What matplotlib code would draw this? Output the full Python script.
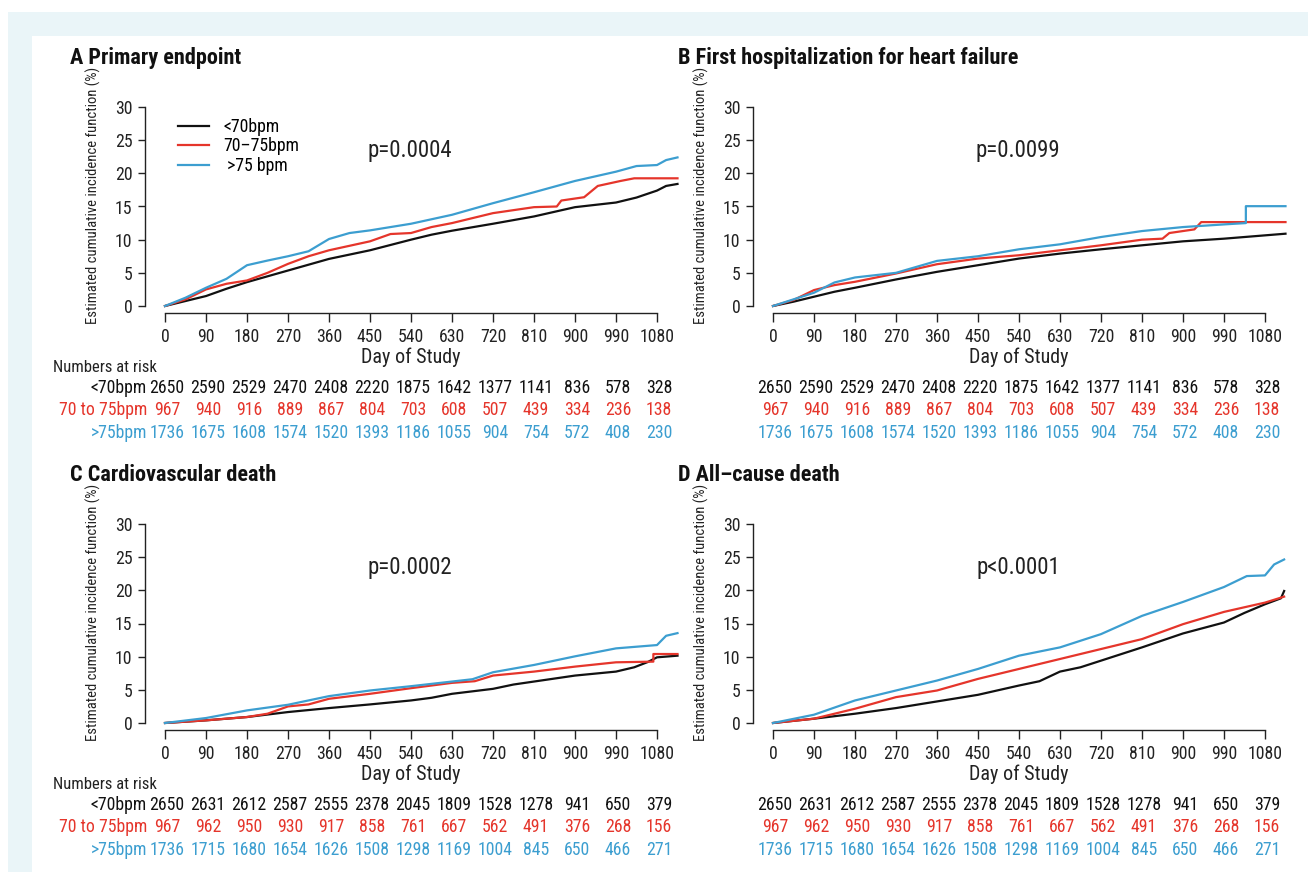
import matplotlib
matplotlib.use("Agg")
from matplotlib import pyplot as plt, font_manager as fm
from matplotlib.patches import Rectangle
import numpy as np

W, H = 1308, 872

# ---- data ----
ticks = [0, 90, 180, 270, 360, 450, 540, 630, 720, 810, 900, 990, 1080]

# A primary endpoint
a_lo_t = [0, 45, 90, 135, 180, 270, 360, 450, 540, 585, 630, 720, 810, 900, 990, 1035, 1080, 1100, 1125]
a_lo = [0, 0.75, 1.5, 2.6, 3.6, 5.35, 7.1, 8.4, 10.0, 10.75, 11.35, 12.4, 13.5, 14.9, 15.6, 16.35, 17.4, 18.1, 18.4]
a_mid_t = [0, 45, 90, 135, 180, 225, 270, 315, 360, 450, 495, 540, 585, 630, 720, 810, 860, 870, 920, 950, 1000, 1030, 1125]
a_mid = [0, 1.0, 2.5, 3.35, 3.85, 5.0, 6.35, 7.5, 8.4, 9.75, 10.85, 11.0, 11.9, 12.5, 14.0, 14.9, 15.0, 15.9, 16.4, 18.1, 18.85, 19.25, 19.25]
a_hi_t = [0, 45, 90, 135, 180, 225, 270, 315, 360, 405, 450, 540, 630, 720, 810, 900, 990, 1035, 1080, 1100, 1125]
a_hi = [0, 1.25, 2.75, 4.1, 6.15, 6.85, 7.5, 8.25, 10.1, 11.0, 11.4, 12.4, 13.75, 15.5, 17.15, 18.85, 20.25, 21.1, 21.25, 22.0, 22.4]

# B first hospitalization for heart failure
b_lo_t = [0, 45, 90, 135, 180, 270, 360, 450, 540, 630, 720, 810, 900, 990, 1080, 1125]
b_lo = [0, 0.65, 1.4, 2.15, 2.75, 4.0, 5.15, 6.15, 7.15, 7.9, 8.55, 9.15, 9.75, 10.15, 10.65, 10.9]
b_mid_t = [0, 45, 90, 135, 180, 270, 360, 450, 540, 630, 720, 810, 855, 870, 900, 925, 940, 1125]
b_mid = [0, 0.9, 2.4, 3.15, 3.65, 4.9, 6.3, 7.15, 7.65, 8.4, 9.15, 10.0, 10.15, 11.0, 11.3, 11.55, 12.65, 12.65]
b_hi_t = [0, 45, 90, 135, 180, 270, 360, 450, 540, 630, 720, 810, 900, 990, 1038, 1038, 1125]
b_hi = [0, 1.0, 2.0, 3.55, 4.3, 5.0, 6.8, 7.5, 8.55, 9.3, 10.4, 11.3, 11.9, 12.3, 12.5, 15.05, 15.05]

# C cardiovascular death
c_lo_t = [0, 90, 180, 270, 360, 450, 540, 585, 630, 720, 765, 810, 900, 990, 1030, 1060, 1080, 1125]
c_lo = [0, 0.4, 0.9, 1.65, 2.25, 2.8, 3.4, 3.8, 4.4, 5.15, 5.8, 6.25, 7.15, 7.75, 8.4, 9.2, 9.9, 10.15]
c_mid_t = [0, 90, 180, 225, 270, 315, 360, 450, 540, 630, 680, 720, 810, 900, 990, 1072, 1072, 1125]
c_mid = [0, 0.4, 0.9, 1.4, 2.5, 2.8, 3.65, 4.4, 5.25, 6.05, 6.3, 7.15, 7.75, 8.5, 9.15, 9.25, 10.4, 10.4]
c_hi_t = [0, 90, 180, 270, 360, 450, 540, 630, 675, 720, 810, 900, 990, 1080, 1100, 1125]
c_hi = [0, 0.75, 1.9, 2.75, 4.05, 4.9, 5.55, 6.25, 6.6, 7.65, 8.75, 10.05, 11.25, 11.75, 13.15, 13.55]

# D all-cause death
d_lo_t = [0, 90, 180, 270, 360, 450, 540, 585, 630, 675, 720, 810, 900, 990, 1035, 1080, 1115, 1122]
d_lo = [0, 0.65, 1.4, 2.25, 3.25, 4.25, 5.65, 6.3, 7.75, 8.4, 9.4, 11.4, 13.5, 15.15, 16.6, 17.9, 18.8, 19.9]
d_mid_t = [0, 90, 180, 270, 360, 450, 540, 630, 720, 810, 900, 990, 1080, 1122]
d_mid = [0, 0.65, 2.15, 3.9, 4.9, 6.65, 8.15, 9.65, 11.15, 12.65, 14.9, 16.75, 18.15, 19.05]
d_hi_t = [0, 90, 180, 270, 360, 450, 540, 630, 720, 810, 900, 990, 1040, 1080, 1100, 1122]
d_hi = [0, 1.25, 3.4, 4.9, 6.4, 8.15, 10.15, 11.4, 13.4, 16.15, 18.25, 20.5, 22.15, 22.25, 23.9, 24.65]

# numbers at risk
risk_hf_lo = [2650, 2590, 2529, 2470, 2408, 2220, 1875, 1642, 1377, 1141, 836, 578, 328]
risk_hf_mid = [967, 940, 916, 889, 867, 804, 703, 608, 507, 439, 334, 236, 138]
risk_hf_hi = [1736, 1675, 1608, 1574, 1520, 1393, 1186, 1055, 904, 754, 572, 408, 230]
risk_d_lo = [2650, 2631, 2612, 2587, 2555, 2378, 2045, 1809, 1528, 1278, 941, 650, 379]
risk_d_mid = [967, 962, 950, 930, 917, 858, 761, 667, 562, 491, 376, 268, 156]
risk_d_hi = [1736, 1715, 1680, 1654, 1626, 1508, 1298, 1169, 1004, 845, 650, 466, 271]

group_labels = ["<70bpm", "70\u201375bpm", " >75 bpm"]
risk_labels = ["<70bpm", "70 to 75bpm", ">75bpm"]
titles = ["A Primary endpoint", "B First hospitalization for heart failure",
          "C Cardiovascular death", "D All\u2013cause death"]
pvals = ["p=0.0004", "p=0.0099", "p=0.0002", "p<0.0001"]

BLACK, RED, BLUE = "#111111", "#E5352B", "#3C9ED0"
colors_ = [BLACK, RED, BLUE]

# pick a narrow sans if one is installed, otherwise Arial-like metrics, smaller
names = {f.name for f in fm.fontManager.ttflist}
main_font, k = None, 1.0
for cand in ["Liberation Sans Narrow", "Roboto Condensed", "DejaVu Sans Condensed",
             "Open Sans Condensed", "Noto Sans Condensed", "Arial Narrow"]:
    if cand in names:
        main_font = cand
        break
if main_font is None:
    cond = [f for f in fm.fontManager.ttflist
            if str(f.stretch) in ("condensed", "semi-condensed", "extra-condensed")
            or (isinstance(f.stretch, int) and f.stretch < 500)]
    if cond:
        main_font = cond[0].name
        plt.rcParams["font.stretch"] = "condensed"
    else:
        main_font, k = "Liberation Sans", 0.84
plt.rcParams["font.family"] = [main_font, "DejaVu Sans"]

fig = plt.figure(figsize=(W / 100, H / 100), dpi=100, facecolor="white")
fig.add_artist(Rectangle((8 / W, 0), 1, 1 - 12 / H, transform=fig.transFigure,
                         facecolor="#EAF5F8", edgecolor="none", zorder=-10))
fig.add_artist(Rectangle((32 / W, 0), 1, 1 - 36 / H, transform=fig.transFigure,
                         facecolor="white", edgecolor="none", zorder=-9))


def fx(px):
    return px / W


def fy(py):
    return 1 - py / H


pxday = 492 / 1080.0
pxunit = 199 / 30.0
xmin, xmax = -20 / pxday, 1130
ymin, ymax = -7 / pxunit, 30.3

panels = [
    (165, 306, [(a_lo_t, a_lo), (a_mid_t, a_mid), (a_hi_t, a_hi)], (risk_hf_lo, risk_hf_mid, risk_hf_hi), True),
    (773, 306, [(b_lo_t, b_lo), (b_mid_t, b_mid), (b_hi_t, b_hi)], (risk_hf_lo, risk_hf_mid, risk_hf_hi), False),
    (165, 723, [(c_lo_t, c_lo), (c_mid_t, c_mid), (c_hi_t, c_hi)], (risk_d_lo, risk_d_mid, risk_d_hi), True),
    (773, 723, [(d_lo_t, d_lo), (d_mid_t, d_mid), (d_hi_t, d_hi)], (risk_d_lo, risk_d_mid, risk_d_hi), False),
]

for i, (x0, y0, curves, risk, left) in enumerate(panels):
    lpx = x0 + xmin * pxday
    rpx = x0 + xmax * pxday
    tpx = y0 - ymax * pxunit
    bpx = y0 - ymin * pxunit
    ax = fig.add_axes([fx(lpx), fy(bpx), (rpx - lpx) / W, (bpx - tpx) / H])
    ax.set_facecolor("none")
    for (t, v), c, lab in zip(curves, colors_, group_labels):
        ax.plot(t, v, color=c, lw=1.6, label=lab)
    ax.set_xlim(xmin, xmax)
    ax.set_ylim(ymin, ymax)
    for s in ["top", "right"]:
        ax.spines[s].set_visible(False)
    ax.spines["left"].set_bounds(0, 30)
    ax.spines["bottom"].set_bounds(0, 1080)
    for s in ["left", "bottom"]:
        ax.spines[s].set_linewidth(1.0)
        ax.spines[s].set_color("#222222")
    ax.set_xticks(ticks)
    ax.set_yticks(range(0, 31, 5))
    ax.tick_params(axis="x", length=6.5, width=1.0, pad=4.5, labelsize=12.8 * k, colors="#222222")
    ax.tick_params(axis="y", length=5, width=1.0, pad=4, labelsize=12.8 * k, colors="#222222")

    fig.text(fx(x0 - 95), fy(y0 - 248), titles[i], fontsize=16 * k, fontweight="bold",
             ha="left", va="center", color="#111111")
    fig.text(fx(x0 - 72), fy(y0 - 111), "Estimated cumulative incidence function (%)",
             rotation=90, fontsize=10.5 * k, ha="center", va="center", color="#222222")
    fig.text(fx(x0 + 540 * pxday), fy(y0 + 51), "Day of Study", fontsize=14.5 * k,
             ha="center", va="center", color="#222222")
    fig.text(fx(x0 + 540 * pxday - 1), fy(y0 - 156), pvals[i], fontsize=16.5 * k,
             ha="center", va="center", color="#222222")

    rows_y = [y0 + 82, y0 + 104, y0 + 127]
    if left:
        fig.text(fx(53), fy(y0 + 61), "Numbers at risk", fontsize=12 * k, ha="left",
                 va="center", color="#222222")
    for r, (vals, c) in enumerate(zip(risk, colors_)):
        for tk, n in zip(ticks, vals):
            fig.text(fx(x0 + tk * pxday + 2), fy(rows_y[r]), str(n), fontsize=12.8 * k,
                     ha="center", va="center", color=c)
        if left:
            fig.text(fx(x0 - 18), fy(rows_y[r]), risk_labels[r], fontsize=12.8 * k,
                     ha="right", va="center", color=c)

    if i == 0:
        ax.legend(loc="upper left", bbox_to_anchor=(fx(178), fy(118)),
                  bbox_transform=fig.transFigure, frameon=False, fontsize=12.8 * k,
                  handlelength=1.75 / k, handletextpad=0.8 / k, labelspacing=0.08,
                  borderpad=0, borderaxespad=0)

fig.savefig("out.png", dpi=100, facecolor="white")
